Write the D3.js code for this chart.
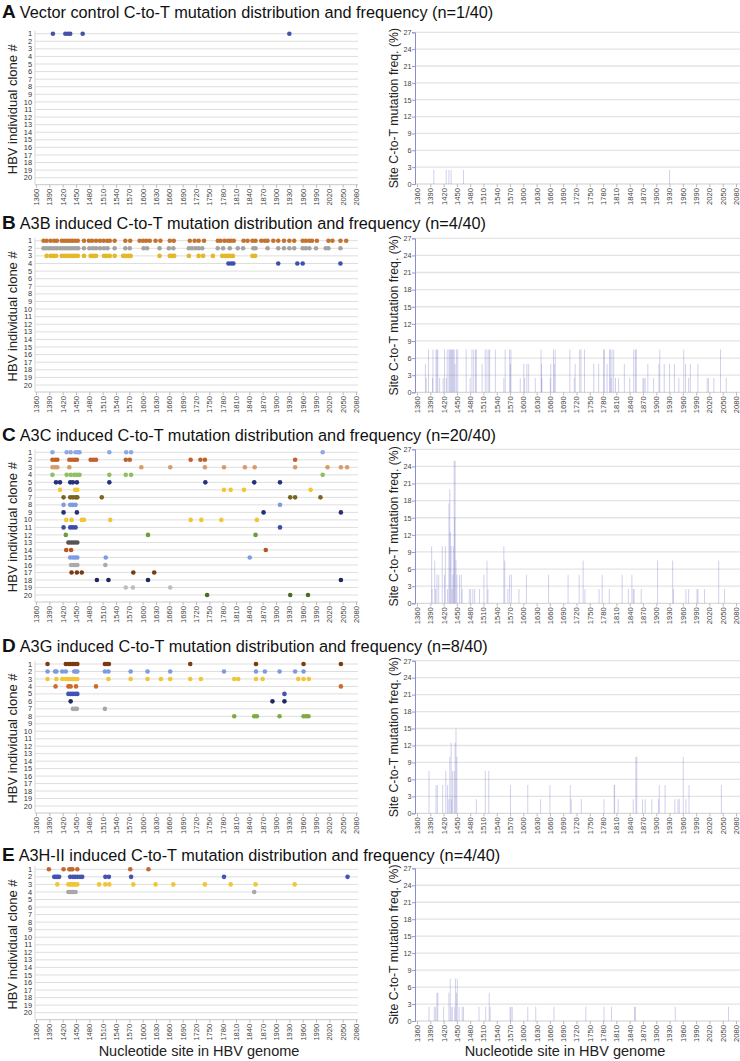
<!DOCTYPE html>
<html><head><meta charset="utf-8">
<script src="https://cdn.jsdelivr.net/npm/d3@7"></script>
<style>body{margin:0;background:#fff}svg{display:block}text{font-family:"Liberation Sans",Arial,Helvetica,sans-serif}</style>
</head><body><div id="c"></div>
<script>
// ---------- tick labels ----------
const xTickLabels = [1360,1390,1420,1450,1480,1510,1540,1570,1600,1630,1660,1690,1720,1750,1780,1810,1840,1870,1900,1930,1960,1990,2020,2050,2080];
const cloneTickLabels = d3.range(1,21);
const freqTickLabels = [0,3,6,9,12,15,18,21,24,27];

// ---------- panel titles ----------
const letters = ["A","B","C","D","E"];
const titles = [
 "Vector control C-to-T mutation distribution and frequency (n=1/40)",
 "A3B induced C-to-T mutation distribution and frequency (n=4/40)",
 "A3C induced C-to-T mutation distribution and frequency (n=20/40)",
 "A3G induced C-to-T mutation distribution and frequency (n=8/40)",
 "A3H-II induced C-to-T mutation distribution and frequency (n=4/40)"
];

// ---------- mutated sites per clone (index = clone-1) ----------
const clonesA = [[1398,1426,1432,1437,1465,1930]];
const clonesB = [
 [1377,1384,1393,1401,1407,1418,1424,1430,1436,1442,1448,1454,1468,1479,1486,1495,1504,1512,1520,1526,1537,1561,1572,1593,1601,1608,1616,1629,1640,1661,1670,1706,1717,1726,1738,1769,1775,1784,1792,1798,1805,1827,1836,1847,1854,1867,1875,1881,1894,1905,1918,1930,1941,1960,1967,1975,1981,1992,2018,2027,2045,2058],
 [1377,1383,1389,1395,1401,1407,1414,1420,1426,1432,1438,1444,1450,1455,1468,1480,1488,1495,1504,1513,1521,1537,1561,1571,1602,1610,1638,1659,1669,1704,1711,1719,1726,1734,1769,1781,1796,1814,1826,1849,1854,1881,1905,1918,1930,1941,1960,1967,1975,1990,2012,2018,2045],
 [1384,1393,1399,1405,1418,1424,1430,1436,1442,1448,1454,1468,1483,1489,1495,1513,1519,1526,1537,1556,1561,1568,1573,1638,1661,1666,1671,1704,1726,1736,1758,1779,1786,1792,1797,1803,1847,1853],
 [1793,1799,1804,1905,1948,1960,2045]
];
const clonesC = [
 [1397,1429,1438,1449,1455,1458,1525,1563,1574,2005],
 [1397,1403,1408,1435,1441,1447,1452,1483,1489,1495,1562,1571,1708,1730,1740,1943],
 [1397,1403,1408,1435,1597,1662,1740,1783,1830,1852,1943,2016,2046,2060],
 [1397,1429,1438,1446,1452,1458,1525,1562,1574,2005],
 [1405,1414,1437,1443,1452,1525,1741,1851,1909],
 [1414,1448,1453,1783,1798,1828,1978],
 [1422,1437,1443,1449,1453,1508,1932,1943,2000],
 [1422,1437,1443,1449,1909],
 [1422,1452,1872,2046],
 [1428,1440,1463,1468,1527,1708,1732,1777,1857],
 [1422,1437,1443,1449,1909],
 [1427,1612,1854],
 [1433,1438,1443,1448,1453],
 [1428,1439,1877],
 [1437,1443,1448,1453,1517,1841],
 [1439,1445,1449,1453,1516],
 [1440,1452,1463,1579,1626],
 [1497,1523,1612,2046],
 [1562,1578,1662],
 [1745,1932,1972]
];
const clonesD = [
 [1386,1427,1433,1438,1443,1448,1453,1515,1520,1524,1707,1855,1962,2046],
 [1386,1403,1406,1419,1427,1446,1450,1453,1515,1523,1573,1611,1662,1783,1855,1875,1908,1943,1962],
 [1386,1406,1419,1427,1433,1438,1443,1448,1453,1523,1573,1611,1641,1662,1707,1731,1806,1815,1855,1870,1950,1962,1974],
 [1404,1433,1438,1450,1495,2046],
 [1433,1438,1443,1448,1453,1919],
 [1438,1892,1919],
 [1443,1448,1452,1515],
 [1806,1851,1857,1908,1962,1968,1973]
];
const clonesE = [
 [1389,1422,1435,1438,1442,1453,1572,1613],
 [1401,1405,1408,1412,1437,1443,1448,1453,1459,1464,1516,1524,1574,1783,2061],
 [1408,1433,1437,1441,1444,1448,1453,1502,1516,1525,1579,1629,1669,1740,1798,1854,1942],
 [1433,1438,1443,1449,1851]
];

// ---------- clone colours ----------
const colorsA = ["#4552a6"];
const colorsB = ["#c4732f","#a3a3a3","#e3b92a","#3f4fae"];
const colorsC = ["#8ea8e6","#c0612c","#d99b6a","#8fc164","#27307a","#f2c536","#7a6420","#7c9be0","#262f7c","#f2c536","#3d4caa","#6d9c3a","#555555","#b9561f","#7d9de2","#ababab","#7a3a12","#1f285e","#bdbdbd","#4b6b22"];
const colorsD = ["#7a3a12","#7c9be0","#f2c536","#d06a28","#4352b4","#202a62","#a8a8a8","#7fab42"];
const colorsE = ["#c4692e","#4352b4","#f2c536","#a8a8a8"];

// ---------- site mutation frequency (%) : [site, freq] ----------
const freqA = [[1398,2.5],[1426,2.5],[1432,2.5],[1437,2.5],[1465,2.5],[1930,2.5]];
const freqB = [[1379,5],[1381,2.5],[1386,7.5],[1395,2.5],[1396,7.5],[1403,7.5],[1405,7.5],[1407,7.5],[1411,2.5],[1419,2.5],[1422,7.5],[1426,2.5],[1428,7.5],[1432,7.5],[1434,7.5],[1436,7.5],[1438,7.5],[1440,7.5],[1442,7.5],[1444,7.5],[1446,5],[1449,7.5],[1452,7.5],[1471,7.5],[1480,2.5],[1484,7.5],[1488,7.5],[1492,7.5],[1494,7.5],[1507,5],[1514,7.5],[1518,7.5],[1522,7.5],[1524,7.5],[1537,7.5],[1556,2.5],[1559,7.5],[1569,7.5],[1571,5],[1572,7.5],[1593,2.5],[1601,5],[1603,2.5],[1608,5],[1612,5],[1627,2.5],[1640,7.5],[1641,5],[1642,2.5],[1661,2.5],[1662,5],[1668,7.5],[1670,5],[1672,7.5],[1705,7.5],[1715,2.5],[1717,5],[1727,7.5],[1730,7.5],[1738,7.5],[1759,5],[1770,5],[1781,7.5],[1783,7.5],[1789,5],[1795,7.5],[1796,7.5],[1798,2.5],[1800,7.5],[1804,7.5],[1808,2.5],[1815,2.5],[1828,5],[1840,2.5],[1849,7.5],[1853,7.5],[1855,7.5],[1870,2.5],[1872,2.5],[1875,2.5],[1881,5],[1894,2.5],[1906,5],[1908,7.5],[1918,5],[1930,5],[1941,5],[1951,2.5],[1962,7.5],[1966,5],[1973,2.5],[1977,5],[1994,5],[2015,2.5],[2018,2.5],[2030,2.5],[2045,7.5],[2058,2.5]];
const freqC = [[1393,10],[1394,2.5],[1400,7.5],[1402,2.5],[1405,5],[1409,5],[1417,10],[1422,5],[1424,10],[1429,2.5],[1432,17.5],[1434,20],[1435,12.5],[1437,10],[1439,2.5],[1441,5],[1442,10],[1444,25],[1445,15],[1446,25],[1448,7.5],[1450,5],[1456,5],[1460,5],[1462,2.5],[1478,2.5],[1481,2.5],[1486,2.5],[1490,2.5],[1501,2.5],[1511,5],[1518,7.5],[1520,2.5],[1556,10],[1558,7.5],[1565,2.5],[1569,5],[1573,5],[1590,2.5],[1607,5],[1657,5],[1701,5],[1726,5],[1735,7.5],[1739,2.5],[1771,2.5],[1778,5],[1794,2.5],[1823,5],[1837,2.5],[1845,5],[1848,2.5],[1850,2.5],[1866,2.5],[1903,7.5],[1937,7.5],[1939,2.5],[1967,2.5],[1973,2.5],[1992,2.5],[1994,2.5],[2009,2.5],[2041,7.5],[2054,2.5]];
const freqD = [[1387,7.5],[1403,5],[1406,5],[1418,5],[1425,7.5],[1429,5],[1432,2.5],[1434,10],[1437,12.5],[1438,2.5],[1440,7.5],[1444,7.5],[1446,12.5],[1448,15],[1450,10],[1494,2.5],[1514,7.5],[1522,7.5],[1571,5],[1610,5],[1639,2.5],[1660,5],[1706,5],[1708,2.5],[1731,2.5],[1782,2.5],[1805,5],[1806,5],[1814,2.5],[1848,2.5],[1854,10],[1856,10],[1869,2.5],[1875,2.5],[1890,2.5],[1905,2.5],[1907,5],[1920,5],[1942,2.5],[1949,2.5],[1952,2.5],[1961,10],[1967,2.5],[1974,5],[2047,5]];
const freqE = [[1387,2.5],[1399,2.5],[1402,2.5],[1405,5],[1407,5],[1420,2.5],[1432,5],[1435,7.5],[1437,2.5],[1440,2.5],[1445,2.5],[1447,7.5],[1449,5],[1451,7.5],[1455,2.5],[1462,2.5],[1465,2.5],[1500,2.5],[1515,2.5],[1523,5],[1525,2.5],[1570,2.5],[1572,2.5],[1575,2.5],[1610,2.5],[1628,2.5],[1669,2.5],[1741,2.5],[1782,2.5],[1799,2.5],[1851,2.5],[1853,2.5],[1943,2.5],[2063,2.5]];

const allClones = [clonesA,clonesB,clonesC,clonesD,clonesE];
const allColors = [colorsA,colorsB,colorsC,colorsD,colorsE];
const allFreq = [freqA,freqB,freqC,freqD,freqE];

// ---------- layout (pixels) ----------
const W = 740, H = 1061;
const layout = [
 {tb:17.5, l1:33.7, l20:177.7, r27:32.3, r0:184},
 {tb:228.5, l1:240.7, l20:385, r27:238.3, r0:392.3},
 {tb:440.5, l1:452.3, l20:595, r27:449.3, r0:603.3},
 {tb:652, l1:664, l20:806, r27:660.7, r0:813.3},
 {tb:860.5, l1:869.3, l20:1012.7, r27:868.3, r0:1021}
];

const svg = d3.select("#c").append("svg").attr("width",W).attr("height",H);
svg.append("rect").attr("width",W).attr("height",H).attr("fill","#fff");

const xL = d3.scaleLinear().domain([1360,2080]).range([36,356]);
const xR = d3.scaleLinear().domain([1360,2080]).range([417,736]);

layout.forEach((L,i)=>{
  const g = svg.append("g");
  // title
  const t = g.append("text").attr("x",2).attr("y",L.tb).attr("fill","#111");
  t.append("tspan").attr("font-weight","bold").attr("font-size",19).text(letters[i]);
  t.append("tspan").attr("font-size",16.3).attr("dx",4).text(titles[i]);

  // ---- left: clone dots ----
  const yL = d3.scaleLinear().domain([1,20]).range([L.l1,L.l20]);
  const bottom = L.l20 + 7;
  const gl = g.append("g");
  gl.selectAll("line.grid").data(cloneTickLabels).join("line")
    .attr("x1",35).attr("x2",358).attr("y1",d=>yL(d)).attr("y2",d=>yL(d))
    .attr("stroke","#dedede").attr("stroke-width",1);
  gl.append("line").attr("x1",35).attr("x2",358).attr("y1",bottom).attr("y2",bottom).attr("stroke","#c8c8c8");
  gl.append("line").attr("x1",35).attr("x2",35).attr("y1",L.l1-3).attr("y2",bottom).attr("stroke","#d8d8d8");
  const axL = d3.axisBottom(xL).tickValues(xTickLabels).tickSize(3).tickFormat(d3.format("d"));
  const ga = gl.append("g").attr("transform",`translate(0,${bottom})`).call(axL);
  ga.select(".domain").remove();
  ga.selectAll(".tick line").attr("stroke","#bbb");
  ga.selectAll(".tick text").attr("font-size",7.6).attr("fill","#444")
    .attr("transform","rotate(-90)").attr("text-anchor","end").attr("dy","0.32em").attr("x",-4).attr("y",0);
  gl.selectAll("text.yl").data(cloneTickLabels).join("text")
    .attr("x",32).attr("y",d=>yL(d)).attr("dy","0.35em").attr("text-anchor","end")
    .attr("font-size",7.4).attr("fill","#333").text(d=>d);
  gl.append("text").attr("transform",`translate(16.5,${(L.l1+bottom)/2}) rotate(-90)`)
    .attr("text-anchor","middle").attr("font-size",13).attr("fill","#222").text("HBV individual clone #");
  const pts = [];
  allClones[i].forEach((sites,ci)=>sites.forEach(s=>pts.push({c:ci+1,s,col:allColors[i][ci]})));
  gl.selectAll("circle").data(pts).join("circle")
    .attr("cx",d=>xL(d.s)).attr("cy",d=>yL(d.c)).attr("r",2.3).attr("fill",d=>d.col);

  // ---- right: frequency bars ----
  const yR = d3.scaleLinear().domain([0,27]).range([L.r0,L.r27]);
  const gr = g.append("g");
  gr.selectAll("line.grid").data(freqTickLabels.filter(d=>d>0)).join("line")
    .attr("x1",415).attr("x2",740).attr("y1",d=>yR(d)).attr("y2",d=>yR(d))
    .attr("stroke","#e3e3e3").attr("stroke-width",1.3);
  gr.append("line").attr("x1",415).attr("x2",740).attr("y1",L.r0).attr("y2",L.r0).attr("stroke","#cfcfcf");
  gr.selectAll("rect").data(allFreq[i]).join("rect")
    .attr("x",d=>xR(d[0])-0.5).attr("width",1)
    .attr("y",d=>yR(d[1])).attr("height",d=>yR(0)-yR(d[1]))
    .attr("fill","#7272c8").attr("fill-opacity",0.33);
  const axY = d3.axisLeft(yR).tickValues(freqTickLabels).tickSize(3).tickFormat(d3.format("d"));
  const gy = gr.append("g").attr("transform","translate(415,0)").call(axY);
  gy.select(".domain").attr("stroke","#8c8cd0");
  gy.selectAll(".tick line").attr("stroke","#9a9ad0");
  gy.selectAll(".tick text").attr("font-size",7.2).attr("fill","#444").attr("x",-3.5);
  const axR = d3.axisBottom(xR).tickValues(xTickLabels).tickSize(3).tickFormat(d3.format("d"));
  const gx = gr.append("g").attr("transform",`translate(0,${L.r0})`).call(axR);
  gx.select(".domain").remove();
  gx.selectAll(".tick line").attr("stroke","#bbb");
  gx.selectAll(".tick text").attr("font-size",7.6).attr("fill","#444")
    .attr("transform","rotate(-90)").attr("text-anchor","end").attr("dy","0.32em").attr("x",-4).attr("y",0);
  gr.append("text").attr("transform",`translate(397.5,${(L.r27+L.r0)/2}) rotate(-90)`)
    .attr("text-anchor","middle").attr("font-size",12.3).attr("fill","#222").text("Site C-to-T mutation freq. (%)");
});

// x-axis titles
svg.append("text").attr("x",199).attr("y",1055.5).attr("text-anchor","middle").attr("font-size",14.5).attr("fill","#222").text("Nucleotide site in HBV genome");
svg.append("text").attr("x",565).attr("y",1055.5).attr("text-anchor","middle").attr("font-size",14.5).attr("fill","#222").text("Nucleotide site in HBV genome");
</script></body></html>
